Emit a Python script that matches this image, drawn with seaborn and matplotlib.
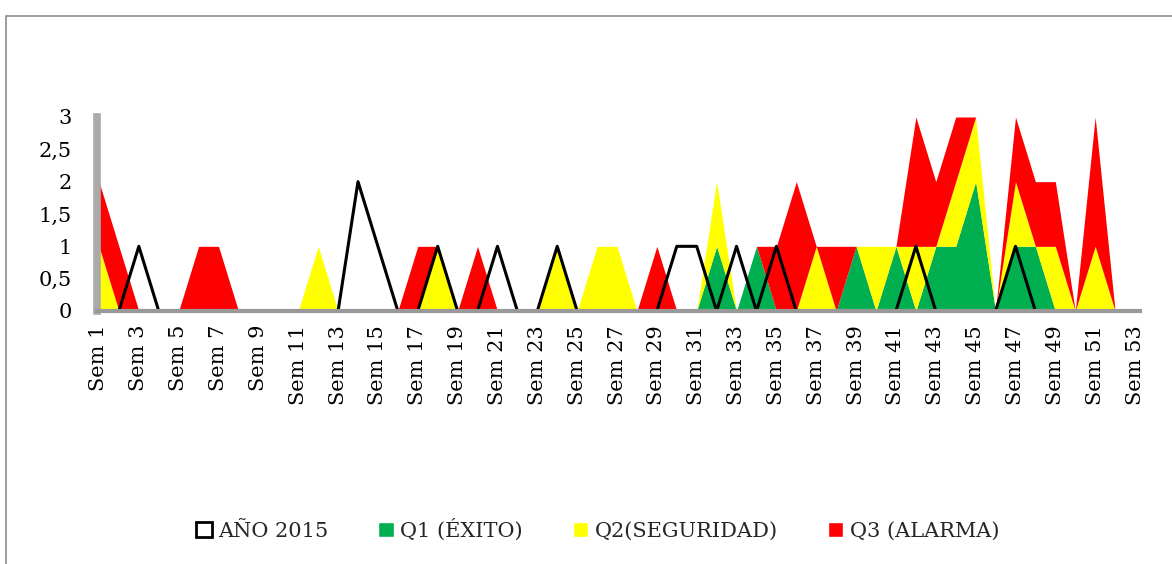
import numpy as np
import pandas as pd
import matplotlib
matplotlib.use("Agg")
import matplotlib.pyplot as plt
import seaborn as sns
from matplotlib.patches import Patch, Rectangle

# weeks 1..53
weeks = list(range(1, 54))
week_labels = ["Sem %d" % w for w in weeks]

# values per week (stacked areas: Q1 bottom, Q2 middle, Q3 top)
ano_2015 = [0, 0, 1, 0, 0, 0, 0, 0, 0, 0, 0, 0, 0, 2, 1, 0, 0, 1, 0, 0,
            1, 0, 0, 1, 0, 0, 0, 0, 0, 1, 1, 0, 1, 0, 1, 0, 0, 0, 0, 0,
            0, 1, 0, 0, 0, 0, 1, 0, 0, 0, 0, 0, 0]
q1_exito = [0, 0, 0, 0, 0, 0, 0, 0, 0, 0, 0, 0, 0, 0, 0, 0, 0, 0, 0, 0,
            0, 0, 0, 0, 0, 0, 0, 0, 0, 0, 0, 1, 0, 1, 0, 0, 0, 0, 1, 0,
            1, 0, 1, 1, 2, 0, 1, 1, 0, 0, 0, 0, 0]
q2_seguridad = [1, 0, 0, 0, 0, 0, 0, 0, 0, 0, 0, 1, 0, 0, 0, 0, 0, 1, 0, 0,
                0, 0, 0, 1, 0, 1, 1, 0, 0, 0, 0, 1, 0, 0, 0, 0, 1, 0, 0, 1,
                0, 1, 0, 1, 1, 0, 1, 0, 1, 0, 1, 0, 0]
q3_alarma = [1, 1, 0, 0, 0, 1, 1, 0, 0, 0, 0, 0, 0, 0, 0, 0, 1, 0, 0, 1,
             0, 0, 0, 0, 0, 0, 0, 0, 1, 0, 0, 0, 0, 0, 1, 2, 0, 1, 0, 0,
             0, 2, 1, 1, 0, 0, 1, 1, 1, 0, 2, 0, 0]

df = pd.DataFrame({"semana": weeks, "AÑO 2015": ano_2015})

sns.set_theme(style="white")
plt.rcParams['font.family'] = ['DejaVu Serif', 'DejaVu Sans']

fig = plt.figure(figsize=(11.72, 5.64), dpi=100)
ax = fig.add_axes([97 / 1172, 1 - 311 / 564, (1140 - 97) / 1172, (311 - 117) / 564])

# Excel style chart frame
fig.patches.append(Rectangle((6 / 1172, -0.1), 1.2, 1.1 - 16 / 564, transform=fig.transFigure,
                             fill=False, edgecolor='#8c8c8c', lw=1.2))

ax.stackplot(weeks, q1_exito, q2_seguridad, q3_alarma,
             colors=['#00B050', '#FFFF00', '#FF0000'], lw=0)
sns.lineplot(data=df, x="semana", y="AÑO 2015", color='black', lw=2.2, ax=ax, legend=False)

ax.set_xlim(0.9, 53.25)
ax.set_ylim(0, 3)
ax.set_yticks([0, 0.5, 1, 1.5, 2, 2.5, 3])
ax.set_yticklabels(['0', '0,5', '1', '1,5', '2', '2,5', '3'])
ax.set_xticks(weeks[::2])
ax.set_xticklabels(week_labels[::2], rotation=90, va='top')
ax.tick_params(axis='both', length=0, labelsize=15, colors='black')
ax.tick_params(axis='y', pad=18)
ax.tick_params(axis='x', pad=10)
ax.set_xlabel("")
ax.set_ylabel("")

for s in ['top', 'right']:
    ax.spines[s].set_visible(False)
ax.spines['bottom'].set_color('#999999')
ax.spines['bottom'].set_linewidth(3)
ax.spines['bottom'].set_zorder(5)
ax.spines['left'].set_color('#aaaaaa')
ax.spines['left'].set_linewidth(5.5)
ax.spines['left'].set_zorder(5)

handles = [Patch(facecolor='white', edgecolor='black', lw=2),
           Patch(facecolor='#00B050'), Patch(facecolor='#FFFF00'), Patch(facecolor='#FF0000')]
labels = ['AÑO 2015', 'Q1 (ÉXITO)', 'Q2(SEGURIDAD)', 'Q3 (ALARMA)']
fig.legend(handles, labels, loc='center', bbox_to_anchor=(0.51, 1 - 530 / 564), ncol=4,
           frameon=False, fontsize=15, handlelength=0.75, handleheight=0.75,
           handletextpad=0.3, columnspacing=2.4)

fig.savefig('out.png', dpi=100)
